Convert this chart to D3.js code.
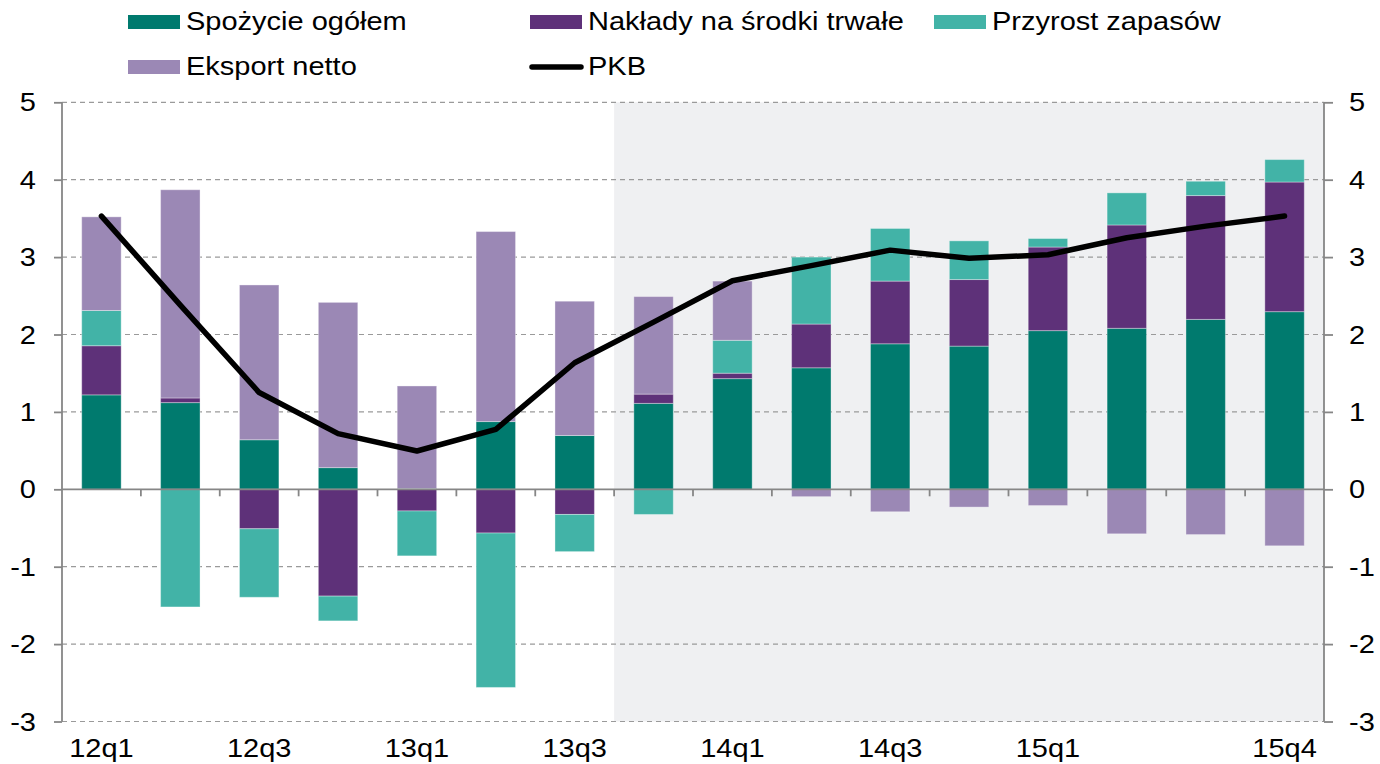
<!DOCTYPE html>
<html>
<head>
<meta charset="utf-8">
<script src="https://cdn.jsdelivr.net/npm/d3@7"></script>
<style>
  body { margin: 0; background: #fff; }
  svg text { font-family: "Liberation Sans", Arial, sans-serif; fill: #000; }
</style>
</head>
<body>
<div id="chart"></div>
<script>
// dane: wkład do wzrostu PKB (pkt proc.)
const quarters = ["12q1","12q2","12q3","12q4","13q1","13q2","13q3","13q4",
                  "14q1","14q2","14q3","14q4","15q1","15q2","15q3","15q4"];
const spozycie = [1.22, 1.12, 0.64, 0.28, 0.01, 0.875, 0.695, 1.11, 1.43, 1.57, 1.88, 1.85, 2.05, 2.08, 2.195, 2.295];
const naklady  = [0.635, 0.06, -0.51, -1.38, -0.28, -0.565, -0.325, 0.12, 0.07, 0.565, 0.81, 0.86, 1.08, 1.335, 1.60, 1.675];
const przyrost = [0.455, -1.52, -0.885, -0.32, -0.58, -1.995, -0.48, -0.325, 0.425, 0.865, 0.68, 0.50, 0.11, 0.415, 0.185, 0.29];
const eksport  = [1.21, 2.69, 2.0, 2.135, 1.325, 2.455, 1.735, 1.26, 0.765, -0.095, -0.29, -0.23, -0.21, -0.575, -0.585, -0.73];
const pkb      = [3.53, 2.38, 1.25, 0.72, 0.495, 0.775, 1.635, 2.16, 2.695, 2.89, 3.09, 2.985, 3.03, 3.25, 3.40, 3.53];
const tickLabels = ["12q1","12q3","13q1","13q3","14q1","14q3","15q1","15q4"];
const yTicks = [-3,-2,-1,0,1,2,3,4,5];
const forecastStart = "13q4";

const keys = ["spozycie","naklady","przyrost","eksport"];
const names = {spozycie:"Spożycie ogółem", naklady:"Nakłady na środki trwałe",
               przyrost:"Przyrost zapasów", eksport:"Eksport netto"};
const colors = d3.scaleOrdinal()
  .domain(keys)
  .range(["#007a6e","#5e3179","#42b3a7","#9b88b5"]);

const width = 1380, height = 764;
const plotLeft = 62, plotRight = 1324, plotTop = 102.3, plotBottom = 721.5;
const sx = 1.16; // tekst w oryginale jest rozciągnięty w poziomie

let table = quarters.map((q, i) => ({
  q: q, spozycie: spozycie[i], naklady: naklady[i],
  przyrost: przyrost[i], eksport: eksport[i], pkb: pkb[i]
}));

let x = d3.scaleBand()
  .domain(quarters)
  .range([plotLeft, plotRight])
  .paddingInner(0.5)
  .paddingOuter(0.25);

let y = d3.scaleLinear()
  .domain([-3, 5])
  .range([plotBottom, plotTop]);

let svg = d3.select("#chart").append("svg")
  .attr("width", width)
  .attr("height", height);

function stretchedText(g, tx, ty, str, anchor) {
  return g.append("text")
    .attr("transform", "translate(" + tx + "," + ty + ") scale(" + sx + ",1)")
    .attr("text-anchor", anchor || "start")
    .style("font-size", "25px")
    .text(str);
}

let halfGap = x.step() * x.paddingInner() / 2;

// tło prognozy
let shadeX = x(forecastStart) - halfGap;
svg.append("rect")
  .attr("x", shadeX)
  .attr("y", plotTop)
  .attr("width", plotRight - shadeX)
  .attr("height", plotBottom - plotTop)
  .attr("fill", "#eff0f2");

// siatka
svg.append("g")
  .selectAll("line")
  .data(yTicks.filter(d => d !== 0))
  .enter().append("line")
  .attr("x1", plotLeft).attr("x2", plotRight)
  .attr("y1", d => y(d)).attr("y2", d => y(d))
  .attr("stroke", "#9a9a9a")
  .attr("stroke-width", 1.2)
  .attr("stroke-dasharray", "5,4");

// słupki
let series = d3.stack()
  .keys(keys)
  .offset(d3.stackOffsetDiverging)(table);

svg.append("g")
  .selectAll("g")
  .data(series)
  .enter().append("g")
  .attr("fill", d => colors(d.key))
  .selectAll("rect")
  .data(d => d)
  .enter().append("rect")
  .attr("x", d => x(d.data.q))
  .attr("width", x.bandwidth())
  .attr("y", d => y(Math.max(d[0], d[1])))
  .attr("height", d => Math.abs(y(d[0]) - y(d[1])))
  .attr("stroke", "rgba(255,255,255,0.35)")
  .attr("stroke-width", 1);

// oś zero + znaczniki między kwartałami
svg.append("line")
  .attr("x1", plotLeft).attr("x2", plotRight)
  .attr("y1", y(0)).attr("y2", y(0))
  .attr("stroke", "#868686")
  .attr("stroke-width", 1.8);

svg.append("g")
  .selectAll("line")
  .data(quarters.slice(1))
  .enter().append("line")
  .attr("x1", d => x(d) - halfGap)
  .attr("x2", d => x(d) - halfGap)
  .attr("y1", y(0))
  .attr("y2", y(0) + 7)
  .attr("stroke", "#868686")
  .attr("stroke-width", 1.8);

// osie pionowe
let yLeft = d3.axisLeft(y).tickValues(yTicks).tickSize(8).tickFormat("");
let yRight = d3.axisRight(y).tickValues(yTicks).tickSize(9).tickFormat("");

svg.append("g")
  .attr("transform", "translate(" + plotLeft + ",0)")
  .call(yLeft)
  .call(g => g.select(".domain").attr("d", "M0," + plotTop + "V" + plotBottom));
svg.append("g")
  .attr("transform", "translate(" + plotRight + ",0)")
  .call(yRight)
  .call(g => g.select(".domain").attr("d", "M0," + plotTop + "V" + plotBottom));

svg.selectAll(".domain, .tick line")
  .attr("stroke", "#868686")
  .attr("stroke-width", 1.8);

let labels = svg.append("g");
yTicks.forEach(v => {
  stretchedText(labels, 36, y(v) + 9, String(v), "end");
  stretchedText(labels, 1349, y(v) + 9, String(v), "start");
});
tickLabels.forEach(q => {
  stretchedText(labels, x(q) + x.bandwidth() / 2, 757, q, "middle");
});

// linia PKB
let line = d3.line()
  .x(d => x(d.q) + x.bandwidth() / 2)
  .y(d => y(d.pkb));

svg.append("path")
  .datum(table)
  .attr("d", line)
  .attr("fill", "none")
  .attr("stroke", "#000")
  .attr("stroke-width", 5.5)
  .attr("stroke-linejoin", "round")
  .attr("stroke-linecap", "round");

// legenda
let legend = svg.append("g");
let legendItems = [
  {key: "spozycie", lx: 128, ly: 15},
  {key: "naklady", lx: 530, ly: 15},
  {key: "przyrost", lx: 934, ly: 15},
  {key: "eksport", lx: 128, ly: 60}
];
legendItems.forEach(it => {
  legend.append("rect")
    .attr("x", it.lx).attr("y", it.ly)
    .attr("width", 52).attr("height", 14)
    .attr("fill", colors(it.key));
  stretchedText(legend, it.lx + 58, it.ly + 15, names[it.key]);
});
legend.append("line")
  .attr("x1", 532).attr("x2", 581)
  .attr("y1", 67).attr("y2", 67)
  .attr("stroke", "#000")
  .attr("stroke-width", 5.5)
  .attr("stroke-linecap", "round");
stretchedText(legend, 588, 75, "PKB");
</script>
</body>
</html>
